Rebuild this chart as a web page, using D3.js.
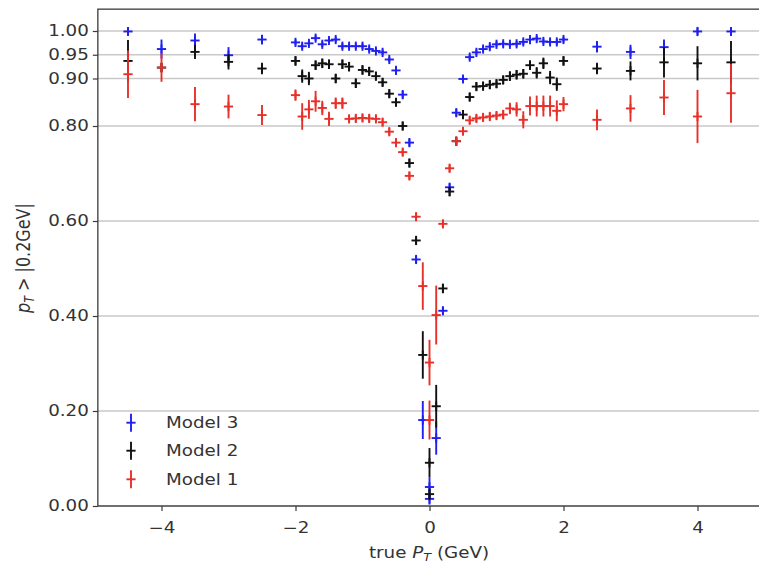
<!DOCTYPE html>
<html>
<head>
<meta charset="utf-8">
<script src="https://cdn.jsdelivr.net/npm/d3@7/dist/d3.min.js"></script>
<style>
  html, body { margin: 0; padding: 0; background: #ffffff; }
  svg { display: block; }
  text { font-family: "DejaVu Sans", sans-serif; fill: #333333; }
</style>
</head>
<body>
<svg id="chart" width="759" height="565"></svg>
<script>
// true transverse momentum bins (GeV); the two halves both end at 0
const ptBins = [-4.5, -4, -3.5, -3, -2.5,
  -2, -1.9, -1.8, -1.7, -1.6, -1.5, -1.4, -1.3, -1.2, -1.1, -1, -0.9, -0.8, -0.7, -0.6, -0.5, -0.4, -0.3, -0.2, -0.1, 0,
  0, 0.1, 0.2, 0.3, 0.4, 0.5, 0.6, 0.7, 0.8, 0.9, 1, 1.1, 1.2, 1.3, 1.4, 1.5, 1.6, 1.7, 1.8, 1.9, 2,
  2.5, 3, 3.5, 4, 4.5];

const model3 = [0.999, 0.962, 0.980, 0.949, 0.982,
  0.976, 0.968, 0.974, 0.985, 0.972, 0.980, 0.982, 0.968, 0.968, 0.968, 0.968, 0.962, 0.958, 0.955, 0.940, 0.917, 0.866, 0.765, 0.519, 0.181, 0.040,
  0.015, 0.143, 0.411, 0.671, 0.828, 0.899, 0.945, 0.955, 0.962, 0.967, 0.972, 0.973, 0.972, 0.973, 0.977, 0.982, 0.984, 0.978, 0.977, 0.977, 0.982,
  0.967, 0.956, 0.966, 0.999, 0.999];
const model3Err = [0.008, 0.020, 0.015, 0.017, 0.010,
  0.006, 0.006, 0.006, 0.006, 0.006, 0.006, 0.006, 0.006, 0.006, 0.006, 0.006, 0.006, 0.006, 0.006, 0.006, 0.007, 0.008, 0.008, 0.008, 0.040, 0.020,
  0.012, 0.035, 0.008, 0.008, 0.008, 0.007, 0.006, 0.006, 0.006, 0.006, 0.006, 0.006, 0.006, 0.006, 0.006, 0.006, 0.006, 0.006, 0.006, 0.006, 0.006,
  0.012, 0.015, 0.016, 0.008, 0.008];

const model2 = [0.937, 0.923, 0.956, 0.935, 0.921,
  0.937, 0.905, 0.900, 0.928, 0.932, 0.930, 0.900, 0.930, 0.925, 0.890, 0.918, 0.915, 0.905, 0.892, 0.868, 0.850, 0.800, 0.722, 0.559, 0.318, 0.091,
  0.025, 0.210, 0.458, 0.662, 0.768, 0.824, 0.861, 0.883, 0.884, 0.887, 0.889, 0.897, 0.905, 0.908, 0.910, 0.928, 0.912, 0.932, 0.902, 0.888, 0.937,
  0.921, 0.916, 0.934, 0.932, 0.934];
const model2Err = [0.044, 0.010, 0.015, 0.016, 0.012,
  0.010, 0.014, 0.014, 0.010, 0.010, 0.010, 0.010, 0.010, 0.010, 0.010, 0.010, 0.009, 0.009, 0.009, 0.009, 0.009, 0.009, 0.009, 0.009, 0.050, 0.031,
  0.012, 0.045, 0.010, 0.010, 0.009, 0.009, 0.009, 0.009, 0.009, 0.009, 0.009, 0.009, 0.010, 0.010, 0.010, 0.010, 0.012, 0.012, 0.014, 0.014, 0.010,
  0.012, 0.020, 0.032, 0.036, 0.045];

const model1 = [0.909, 0.923, 0.846, 0.841, 0.823,
  0.865, 0.820, 0.835, 0.852, 0.838, 0.815, 0.848, 0.848, 0.815, 0.816, 0.817, 0.816, 0.815, 0.808, 0.788, 0.765, 0.745, 0.695, 0.609, 0.463, 0.302,
  0.181, 0.402, 0.594, 0.711, 0.768, 0.789, 0.812, 0.816, 0.818, 0.820, 0.822, 0.824, 0.837, 0.835, 0.813, 0.842, 0.842, 0.842, 0.842, 0.832, 0.846,
  0.813, 0.837, 0.860, 0.820, 0.869];
const model1Err = [0.050, 0.030, 0.036, 0.025, 0.021,
  0.012, 0.028, 0.020, 0.022, 0.015, 0.015, 0.012, 0.012, 0.008, 0.008, 0.008, 0.008, 0.008, 0.008, 0.008, 0.008, 0.008, 0.008, 0.008, 0.050, 0.048,
  0.041, 0.062, 0.008, 0.008, 0.008, 0.008, 0.008, 0.008, 0.008, 0.008, 0.008, 0.010, 0.012, 0.015, 0.018, 0.020, 0.022, 0.022, 0.022, 0.022, 0.015,
  0.022, 0.028, 0.037, 0.056, 0.062];

const yTicks = [0, 0.2, 0.4, 0.6, 0.8, 0.9, 0.95, 1.0];
const xTicks = [-4, -2, 0, 2, 4];

// plotted bottom-up: Model 3 first, Model 1 on top
const series = [
  { name: "Model 3", values: model3, errors: model3Err, color: "#1f1ff0" },
  { name: "Model 2", values: model2, errors: model2Err, color: "#111111" },
  { name: "Model 1", values: model1, errors: model1Err, color: "#e8302a" }
];

const svg = d3.select("#chart");
const plotLeft = 97.85, plotRight = 761.15, plotTop = 9.15, plotBottom = 506;
const fontPx = 15, widen = 1.22;   // glyphs are drawn slightly wide

const x = d3.scaleLinear().domain([-4.95, 4.95]).range([plotLeft, plotRight]);
const y = d3.scaleLinear().domain([0, 1.046]).range([plotBottom, plotTop]);

// horizontal grid
svg.append("g")
  .selectAll("line")
  .data(yTicks)
  .join("line")
  .attr("x1", plotLeft).attr("x2", plotRight)
  .attr("y1", d => y(d)).attr("y2", d => y(d))
  .attr("stroke", "#c9c9c9")
  .attr("stroke-width", 1.4);

// error bars with "+" markers
const half = 4.6;
series.forEach(s => {
  const g = svg.append("g").attr("stroke", s.color).attr("stroke-width", 1.9).attr("fill", "none");
  const pts = ptBins.map((b, i) => ({ b, v: s.values[i], e: s.errors[i] }));
  g.selectAll("line.err").data(pts).join("line").attr("class", "err")
    .attr("x1", d => x(d.b)).attr("x2", d => x(d.b))
    .attr("y1", d => y(d.v - d.e)).attr("y2", d => y(d.v + d.e));
  g.selectAll("line.mh").data(pts).join("line").attr("class", "mh")
    .attr("x1", d => x(d.b) - half).attr("x2", d => x(d.b) + half)
    .attr("y1", d => y(d.v)).attr("y2", d => y(d.v));
  g.selectAll("line.mv").data(pts).join("line").attr("class", "mv")
    .attr("x1", d => x(d.b)).attr("x2", d => x(d.b))
    .attr("y1", d => y(d.v) - half).attr("y2", d => y(d.v) + half);
});

// frame
svg.append("rect")
  .attr("x", plotLeft).attr("y", plotTop)
  .attr("width", plotRight - plotLeft).attr("height", plotBottom - plotTop)
  .attr("fill", "none").attr("stroke", "#3a3a3a").attr("stroke-width", 1.3);

// axes
const yAxis = svg.append("g")
  .attr("transform", `translate(${plotLeft},0)`)
  .call(d3.axisLeft(y).tickValues(yTicks).tickFormat(d3.format(".2f")).tickSize(5).tickPadding(4));
const xAxis = svg.append("g")
  .attr("transform", `translate(0,${plotBottom})`)
  .call(d3.axisBottom(x).tickValues(xTicks).tickFormat(d3.format("d")).tickSize(5).tickPadding(11));
[yAxis, xAxis].forEach(a => {
  a.select(".domain").remove();
  a.selectAll(".tick line").attr("stroke", "#3a3a3a").attr("stroke-width", 1.2);
  a.selectAll(".tick text").attr("fill", "#333333")
    .style("font-family", "DejaVu Sans, sans-serif").style("font-size", fontPx + "px");
});
// widen tick labels around their anchor points
yAxis.selectAll(".tick text").each(function () {
  const t = d3.select(this);
  const x0 = +t.attr("x");
  t.attr("x", 0).attr("transform", `translate(${x0},0) scale(${widen},1)`);
});
xAxis.selectAll(".tick text").attr("transform", `scale(${widen},1)`);

// axis titles
const xt = svg.append("text")
  .attr("transform", `translate(429,558) scale(${widen},1)`)
  .attr("text-anchor", "middle")
  .style("font-size", fontPx + "px");
xt.append("tspan").text("true ");
xt.append("tspan").attr("font-style", "italic").text("P");
xt.append("tspan").attr("font-style", "italic").attr("font-size", "10.5px").attr("dy", 3).text("T");
xt.append("tspan").attr("dy", -3).text(" (GeV)");

const yt = svg.append("text")
  .attr("transform", `translate(30,258) rotate(-90) scale(1,${widen})`)
  .attr("text-anchor", "middle")
  .style("font-size", "16px");
yt.append("tspan").attr("font-style", "italic").text("p");
yt.append("tspan").attr("font-style", "italic").attr("font-size", "11px").attr("dy", 3).text("T");
yt.append("tspan").attr("dy", -3).text(" > |0.2GeV|");

// legend
const legendY = [422.7, 450.7, 479.3];
const legendOrder = ["Model 3", "Model 2", "Model 1"];
legendOrder.forEach((name, i) => {
  const s = series.find(d => d.name === name);
  const g = svg.append("g").attr("stroke", s.color).attr("stroke-width", 1.9);
  const cx = 131, cy = legendY[i];
  g.append("line").attr("x1", cx).attr("x2", cx).attr("y1", cy - 9).attr("y2", cy + 9);
  g.append("line").attr("x1", cx - half).attr("x2", cx + half).attr("y1", cy).attr("y2", cy);
  svg.append("text")
    .attr("transform", `translate(166,${cy}) scale(${widen},1)`)
    .attr("dy", "0.35em")
    .style("font-size", fontPx + "px")
    .text(name);
});
</script>
</body>
</html>
